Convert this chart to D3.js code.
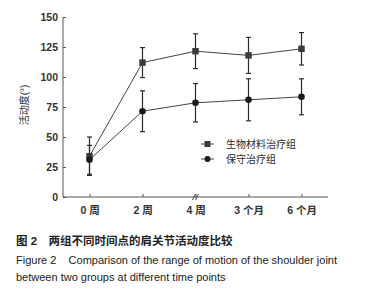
<!DOCTYPE html>
<html>
<head>
<meta charset="utf-8">
<script src="https://d3js.org/d3.v7.min.js"></script>
<style>
  body { margin: 0; background: #fff; }
  text { font-family: "Liberation Sans", Arial, "Noto Sans CJK SC", sans-serif; }
</style>
</head>
<body>
<svg width="377" height="300" id="mainSvg"></svg>
<script>
    // data
    const categories = ["0 周", "2 周", "4 周", "3 个月", "6 个月"];
    const bioMean = [34, 112, 121.5, 118, 123.5];
    const bioErr = [16, 12.5, 14.5, 15, 13.5];
    const consMean = [31, 71.5, 78.5, 81, 83.5];
    const consErr = [12, 17, 16, 17.5, 15];
    const yTicks = [0, 25, 50, 75, 100, 125, 150];
    const seriesNames = ["生物材料治疗组", "保守治疗组"];

    const svg = d3.select("#mainSvg");
    const ink = "#2b2b2b";
    const axisInk = "#555";

    const x = d3.scalePoint().domain(categories).range([63, 328]).padding(0.5);
    const y = d3.scaleLinear().domain([0, 150]).range([197, 17]);

    // y axis
    const yAxis = svg.append("g")
        .attr("transform", "translate(63,0)")
        .call(d3.axisLeft(y).tickValues(yTicks).tickSize(-3).tickPadding(5));
    yAxis.select(".domain").attr("stroke", axisInk).attr("d", `M0,${y(0)}V${y(150)}`);
    yAxis.selectAll("line").attr("stroke", axisInk);
    yAxis.selectAll("text").attr("fill", "#333").attr("font-size", 10.5).attr("font-weight", "bold")
        .attr("font-family", "Liberation Sans, Arial, sans-serif");

    // x axis
    const xAxis = svg.append("g")
        .attr("transform", `translate(0,${y(0)})`)
        .call(d3.axisBottom(x).tickSize(-3).tickPadding(10));
    xAxis.select(".domain").attr("stroke", axisInk).attr("d", "M63,0H328");
    xAxis.selectAll("line").attr("stroke", axisInk);
    xAxis.selectAll("text").attr("fill", "#333").attr("font-size", 10.5).attr("font-weight", "bold")
        .attr("font-family", "Liberation Sans, Noto Sans CJK SC, sans-serif");

    // axis break mark at 4 周
    const bx = x("4 周");
    [-1.5, 1.5].forEach(d => {
        svg.append("line")
            .attr("x1", bx + d - 1.5).attr("y1", y(0) + 3)
            .attr("x2", bx + d + 1.5).attr("y2", y(0) - 3)
            .attr("stroke", ink).attr("stroke-width", 0.9);
    });

    // y label
    svg.append("text")
        .attr("transform", "translate(28,105) rotate(-90)")
        .attr("text-anchor", "middle")
        .attr("font-size", 10)
        .attr("font-family", "Noto Sans CJK SC, sans-serif")
        .attr("fill", ink)
        .text("活动度(°)");

    const series = [
        { name: seriesNames[0], mean: bioMean, err: bioErr, shape: "square" },
        { name: seriesNames[1], mean: consMean, err: consErr, shape: "circle" }
    ];

    const line = d3.line().x((d, i) => x(categories[i])).y(d => y(d));

    series.forEach(s => {
        const g = svg.append("g");
        g.append("path")
            .datum(s.mean)
            .attr("d", line)
            .attr("fill", "none")
            .attr("stroke", "#444")
            .attr("stroke-width", 1);

        const eb = g.selectAll(".eb").data(s.mean).join("g");
        eb.append("line")
            .attr("x1", (d, i) => x(categories[i])).attr("x2", (d, i) => x(categories[i]))
            .attr("y1", (d, i) => y(d + s.err[i])).attr("y2", (d, i) => y(d - s.err[i]))
            .attr("stroke", ink).attr("stroke-width", 1.2);
        [1, -1].forEach(sign => {
            eb.append("line")
                .attr("x1", (d, i) => x(categories[i]) - 2.5).attr("x2", (d, i) => x(categories[i]) + 2.5)
                .attr("y1", (d, i) => y(d + sign * s.err[i])).attr("y2", (d, i) => y(d + sign * s.err[i]))
                .attr("stroke", ink).attr("stroke-width", 1.2);
        });

        if (s.shape === "square") {
            g.selectAll("rect").data(s.mean).join("rect")
                .attr("x", (d, i) => x(categories[i]) - 3.2)
                .attr("y", d => y(d) - 3.2)
                .attr("width", 6.4).attr("height", 6.4)
                .attr("fill", "#3a3a3a");
        } else {
            g.selectAll("circle").data(s.mean).join("circle")
                .attr("cx", (d, i) => x(categories[i]))
                .attr("cy", d => y(d))
                .attr("r", 3.3)
                .attr("fill", "#1a1a1a");
        }
    });

    // legend
    const legend = svg.append("g").attr("transform", "translate(201,144)");
    series.forEach((s, i) => {
        const lg = legend.append("g").attr("transform", `translate(0,${i * 15})`);
        lg.append("line").attr("x1", 0).attr("x2", 13).attr("y1", 0).attr("y2", 0)
            .attr("stroke", "#444").attr("stroke-width", 1);
        if (s.shape === "square") {
            lg.append("rect").attr("x", 3.5).attr("y", -3).attr("width", 6).attr("height", 6).attr("fill", "#3a3a3a");
        } else {
            lg.append("circle").attr("cx", 6.5).attr("cy", 0).attr("r", 3).attr("fill", "#1a1a1a");
        }
        lg.append("text").attr("x", 25).attr("y", 3.5)
            .attr("font-size", 10)
            .attr("font-family", "Noto Sans CJK SC, sans-serif")
            .attr("fill", ink)
            .text(s.name);
    });

    // caption
    svg.append("text").attr("x", 16).attr("y", 245)
        .attr("font-size", 11.5).attr("font-weight", "bold")
        .attr("font-family", "Noto Sans CJK SC, sans-serif")
        .attr("fill", "#222")
        .text("图 2\u3000两组不同时间点的肩关节活动度比较");
    svg.append("text").attr("x", 16).attr("y", 264)
        .attr("font-size", 11)
        .attr("font-family", "Liberation Sans, Arial, sans-serif")
        .attr("fill", "#222")
        .attr("xml:space", "preserve")
        .style("white-space", "pre")
        .text("Figure 2    Comparison of the range of motion of the shoulder joint");
    svg.append("text").attr("x", 16).attr("y", 281)
        .attr("font-size", 11)
        .attr("font-family", "Liberation Sans, Arial, sans-serif")
        .attr("fill", "#222")
        .text("between two groups at different time points");
</script>
</body>
</html>
